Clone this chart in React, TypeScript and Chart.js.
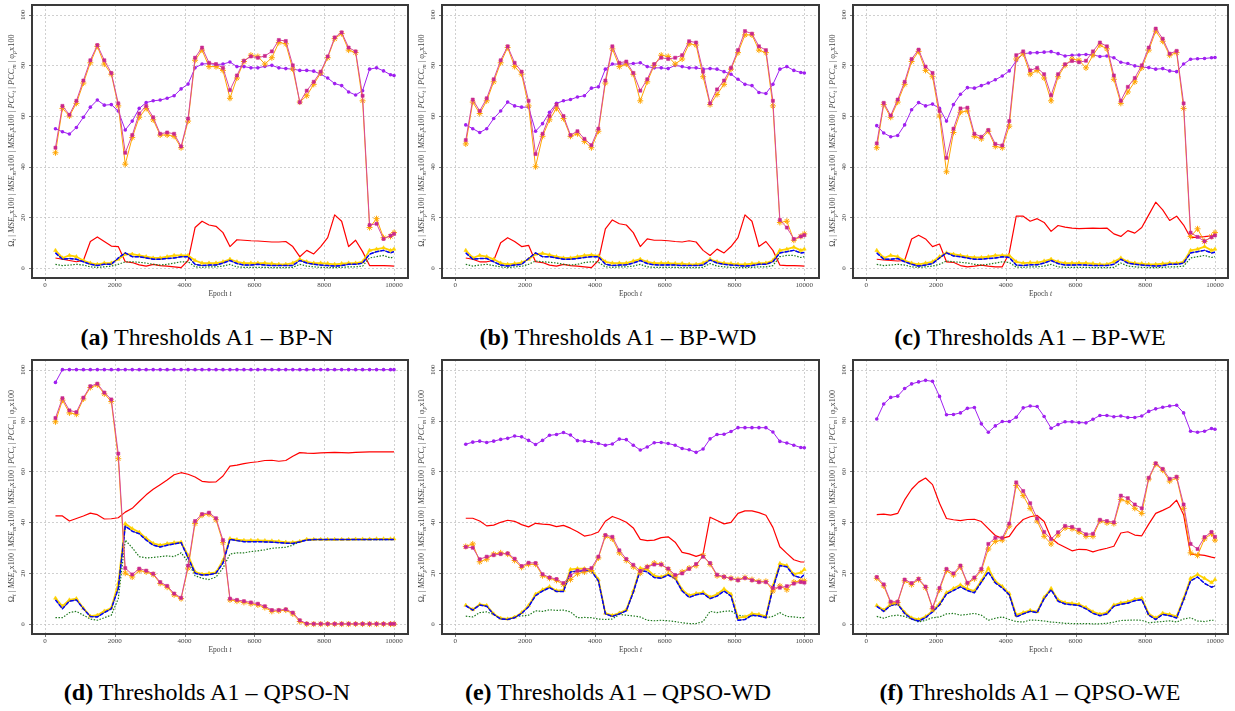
import React, { useEffect, useRef } from "react";
import { Chart, registerables } from "chart.js";
Chart.register(...registerables);

// ---------- shared axis data ----------
const EPOCHS = [
  300, 500, 700, 900, 1100, 1300, 1500, 1700, 1900, 2100,
  2300, 2500, 2700, 2900, 3100, 3300, 3500, 3700, 3900, 4100,
  4300, 4500, 4700, 4900, 5100, 5300, 5500, 5700, 5900, 6100,
  6300, 6500, 6700, 6900, 7100, 7300, 7500, 7700, 7900, 8100,
  8300, 8500, 8700, 8900, 9100, 9300, 9500, 9700, 9900, 10000,
];
const X_TICKS = [0, 2000, 4000, 6000, 8000, 10000];
const Y_TICKS = [0, 20, 40, 60, 80, 100];
const X_TITLE = ["Epoch ", "t"];
const Y_LABEL = [
  ["Ω", "n"], ["t", "s"], [" | ", "n"],
  ["MSE", "i"], ["p", "s"], ["x100 | ", "n"],
  ["MSE", "i"], ["m", "s"], ["x100 | ", "n"],
  ["MSE", "i"], ["t", "s"], ["x100 | ", "n"],
  ["PCC", "i"], ["t", "s"], [" | ", "n"],
  ["PCC", "i"], ["m", "s"], [" | ", "n"],
  ["φ", "n"], ["p", "s"], ["x100", "n"],
];
const CAPTION_LETTERS = ["(a)", "(b)", "(c)", "(d)", "(e)", "(f)"];
const CAPTION_NAMES = ["BP-N", "BP-WD", "BP-WE", "QPSO-N", "QPSO-WD", "QPSO-WE"];

// ---------- (a) BP-N ----------
const PHI_A = [
  55, 53.8, 52.9, 55.5, 59.5, 63.5, 66.3, 64.3, 64.5, 62,
  54.5, 58, 63, 65.3, 66, 66.3, 67, 68, 70.7, 72.6,
  79, 80.5, 80.7, 80.3, 80.5, 81.3, 79.5, 79.5, 79, 79,
  79.6, 80, 79, 78.7, 78.5, 78, 78, 77.7, 76.5, 75,
  72.8, 72, 69.5, 68.3, 70, 78.5, 79, 77.8, 76.3, 76,
];
const PCC_T_A = [
  47.5, 64, 60.5, 66, 74, 82, 88, 82, 77, 65,
  45.5, 52.5, 61, 64, 59.5, 53, 53.5, 53, 48, 59,
  83, 87, 81, 80.5, 79, 70.2, 76, 81.8, 83.5, 83,
  83.7, 85.5, 90, 89.6, 80, 65.4, 70, 73.5, 77.5, 83.5,
  91, 93, 87, 85.5, 68, 17, 17.5, 11.5, 12.8, 13.5,
];
const PCC_M_A = [
  45.5, 63, 60, 65, 73, 81, 87.5, 80.5, 76.5, 64,
  41, 51.5, 59.5, 63, 58.5, 52.5, 52.5, 52, 47.5, 58,
  82, 86, 79.5, 79.5, 78, 67, 75, 81.5, 84, 83.5,
  80.5, 83, 89, 88.5, 78.5, 65.5, 68, 72.5, 77, 83,
  90.5, 92.5, 86, 85, 66, 16, 19.5, 12, 12.5, 14,
];
const OMEGA_A = [
  4, 3.5, 3, 2.5, 3, 10.5, 12.3, 10.5, 8.7, 8.5,
  2.5, 2.2, 1.3, 0.8, 1.5, 1, 0.8, 0.5, 0.2, 3,
  16, 18.5, 17, 16.5, 14, 8.5, 11.2, 11, 10.8, 10.7,
  10.5, 10.3, 10.3, 10.5, 8.5, 4.5, 7, 5.6, 8.5, 12,
  21, 18.5, 8.5, 11, 6.5, 1, 1, 1, 0.9, 0.8,
];
const MSE_T_A = [
  6, 3.5, 3.8, 3.5, 2.5, 1.5, 1, 1.5, 1.5, 4,
  6, 4.5, 4.5, 4, 3.5, 3.5, 3.8, 4, 4.5, 4.5,
  1.5, 1, 1.2, 1.2, 2, 3, 1.8, 1.2, 1.2, 1.5,
  1.2, 1, 1, 1, 1, 3, 2, 1.5, 1.2, 1,
  0.8, 1, 1.5, 1.5, 2, 5.5, 6.5, 7, 6, 6.5,
];
const MSE_M_A = [
  7, 4, 5, 4.5, 3, 2, 1.5, 2, 2, 3.5,
  5.5, 5.5, 5, 4.5, 4, 4, 4.5, 5, 5, 5,
  3, 2, 2, 2, 2.5, 3.5, 2.5, 2, 2, 2,
  2, 1.8, 1.5, 1.5, 2, 3.5, 2.5, 2, 2, 1.8,
  1.5, 1.8, 2, 2, 2.5, 7, 7.5, 8, 7, 7.5,
];
const MSE_P_A = [
  1.5, 1, 1.2, 1.5, 1.2, 0.5, 0.3, 0.5, 0.8, 1.5,
  2.5, 2.5, 2.3, 2, 1.5, 1.2, 1.5, 2, 2.5, 2.5,
  0.5, 0.3, 0.5, 0.5, 0.8, 1.5, 0.5, 0.3, 0.3, 0.3,
  0.3, 0.2, 0.2, 0.2, 0.3, 1.5, 0.8, 0.5, 0.3, 0.2,
  0.2, 0.3, 0.5, 0.5, 0.8, 4, 4.5, 5, 4, 4.5,
];

// ---------- (b) BP-WD ----------
const PHI_B = [
  56.5, 55, 53.5, 55, 59, 62, 65.5, 64, 63.5, 63.5,
  54, 57, 61.5, 65, 66, 66.5, 67.5, 68, 71, 71.5,
  78.5, 80.5, 80.5, 80.5, 80.7, 81, 79.5, 79, 79, 78.7,
  80, 79.5, 79, 79, 78.5, 78.7, 78.5, 77.5, 76.5, 74.5,
  72.5, 72, 69.3, 68.9, 72.5, 78.5, 79.5, 78, 77.2, 77,
];
const PCC_T_B = [
  50.5, 66.5, 62, 67, 74.5, 82, 87.5, 81, 77.5, 66,
  45, 53, 60, 64.5, 60, 52.5, 54, 51, 48.5, 55,
  74, 87.5, 81, 81.5, 77, 70, 74.5, 80.5, 83, 82.5,
  83, 84, 89.5, 89, 77.5, 65, 70.5, 74, 79, 86,
  93.5, 92.5, 87.5, 86, 66, 19, 16, 11.5, 12.5, 13,
];
const PCC_M_B = [
  49, 65.5, 61, 66, 73.5, 81, 87, 79.5, 76.5, 64,
  40, 52, 58.5, 63, 59, 52, 53, 50, 47.5, 54,
  73, 86.5, 79.5, 80.5, 76.5, 66, 73.5, 80, 84, 83.5,
  80.5, 82.5, 88.5, 88, 75.5, 64.5, 68.5, 72.5, 78.5, 85,
  92, 92, 86, 85, 64, 18, 18.5, 11, 12.5, 13.5,
];
const OMEGA_B = [
  4, 3.5, 2.5, 2.5, 3, 10, 12, 10.5, 8.5, 9,
  2.5, 2.2, 1.2, 0.8, 1.5, 1, 0.8, 0.5, 0.2, 3,
  15.5, 19, 17.5, 17, 14, 8.5, 11.5, 11, 11, 10.8,
  10.5, 10.3, 10.8, 10.3, 7, 5, 7.5, 6, 8.5, 12,
  21, 18.5, 8.5, 10.5, 7, 1.2, 1, 1, 0.9, 0.8,
];
const MSE_T_B = [
  6, 3.5, 3.8, 3.8, 2.5, 1.2, 0.8, 1.2, 1.5, 3.8,
  6, 4.5, 4.5, 4, 3.5, 3.5, 3.8, 4.2, 4.5, 4.5,
  1.5, 1, 1.2, 1.3, 2, 3, 1.8, 1.3, 1.2, 1.3,
  1.2, 1, 1, 1, 1.2, 3.2, 2, 1.5, 1.2, 1,
  0.8, 1, 1.5, 1.5, 2.5, 6, 6.5, 7, 6, 6.2,
];
const MSE_M_B = [
  7, 4, 5, 4.5, 3.5, 2, 1.5, 1.8, 2.2, 3.5,
  5.5, 5.8, 5.2, 4.5, 4, 4, 4.5, 5, 5.2, 4.8,
  2.5, 2, 2, 2, 2.8, 3.5, 2.5, 2, 2, 2,
  1.8, 1.8, 1.5, 1.5, 2, 3.5, 2.5, 2, 1.8, 1.5,
  1.5, 1.8, 2, 2, 3, 7, 7.5, 8.3, 7, 7.5,
];
const MSE_P_B = [
  1.5, 0.8, 1.2, 1.5, 1, 0.5, 0.2, 0.5, 0.7, 1.5,
  2.8, 2.5, 2.3, 2, 1.5, 1.2, 1.5, 2.2, 2.5, 2.3,
  0.5, 0.3, 0.5, 0.5, 0.8, 1.5, 0.5, 0.3, 0.3, 0.3,
  0.3, 0.2, 0.2, 0.2, 0.3, 1.8, 0.8, 0.5, 0.3, 0.2,
  0.2, 0.3, 0.5, 0.5, 1, 4.5, 5, 5, 4.2, 4.5,
];

// ---------- (c) BP-WE ----------
const PHI_C = [
  56.2, 53.3, 51.8, 52.3, 56.5, 62.5, 65.3, 64, 64.7, 63,
  58, 64.5, 68.6, 71.2, 71, 72, 73, 74.3, 75.8, 77.8,
  81.8, 84.6, 84.9, 85, 85.2, 85.4, 84.6, 83.7, 84, 84.1,
  84.3, 84.1, 83.5, 83.7, 83, 81.2, 80.7, 79.8, 79.3, 79.1,
  78.5, 78.7, 77.8, 77.5, 80.5, 82.4, 82.6, 82.7, 83, 83.1,
];
const PCC_T_C = [
  49.2, 65.2, 60.2, 66.5, 73.5, 82.5, 86.2, 79.5, 77, 62,
  43.5, 55, 63, 63.3, 53, 51.8, 54.5, 49, 48.4, 58,
  84, 85.5, 78, 79, 76.5, 68.2, 76.5, 80.4, 81.7, 81.2,
  81.8, 85.5, 89, 87.5, 76, 66, 71.5, 75, 80, 87,
  94.5, 90.5, 84.6, 85.7, 65, 14, 12.3, 10.6, 12.2, 12.9,
];
const PCC_M_C = [
  47.5, 64.5, 59.5, 65.5, 72.5, 81.5, 85.5, 78, 75.5, 60,
  38, 53.5, 61.5, 62, 52, 51, 54, 48, 47.5, 56,
  82.5, 84.5, 76.5, 78, 75, 66, 75.5, 80, 82.5, 82,
  79, 84, 88, 86.5, 74.5, 65, 69.5, 73.5, 79, 86,
  93.5, 89.5, 84, 85, 63, 12.5, 15.5, 10.5, 12.5, 14,
];
const OMEGA_C = [
  3.5, 3.2, 3, 2.8, 3, 11.5, 13, 11.5, 8.5, 9.5,
  2.5, 2.3, 1, 0.5, 0.8, 1.2, 0.8, 0.5, 0.5, 6,
  20.5, 20.5, 18.5, 19.5, 18, 14.5, 16.8, 16.2, 15.8, 15.6,
  15.7, 15.8, 15.7, 15.8, 13.5, 12.5, 14.8, 13.8, 16, 21,
  26, 23, 18.8, 20.5, 17, 12, 12.2, 12.4, 12.7, 13,
];
const MSE_T_C = [
  6, 3.5, 3.5, 3.8, 2.5, 1.5, 0.8, 1.2, 1.8, 4,
  6, 4.8, 4.5, 4, 3.5, 3.5, 3.8, 4, 4.5, 4.2,
  1.2, 1, 1.3, 1.3, 2, 3, 1.8, 1.2, 1.2, 1.3,
  1.2, 1, 1, 1, 1.5, 3.5, 2, 1.5, 1.2, 1,
  0.8, 1, 1.5, 1.5, 2, 6, 6.5, 7, 6, 6.3,
];
const MSE_M_C = [
  7, 4, 5, 4.5, 3, 2, 1.5, 2, 2.5, 4.5,
  6, 5.5, 5, 4.5, 4.2, 4.2, 4.5, 5, 5, 5,
  2.5, 2, 2.2, 2.2, 2.8, 3.5, 2.5, 2, 2, 2,
  2, 1.8, 1.5, 1.5, 2.5, 4, 2.5, 2, 1.8, 1.5,
  1.5, 1.8, 2, 2, 2.5, 7, 7.5, 8.5, 7, 7.5,
];
const MSE_P_C = [
  1.5, 1, 1.2, 1.5, 1.2, 0.5, 0.3, 0.5, 0.8, 1.5,
  2.8, 2.5, 2.3, 2, 1.5, 1.2, 1.5, 2, 2.5, 2.2,
  0.4, 0.3, 0.5, 0.5, 0.8, 1.5, 0.5, 0.3, 0.3, 0.3,
  0.3, 0.2, 0.2, 0.2, 0.3, 2, 0.8, 0.5, 0.3, 0.2,
  0.2, 0.3, 0.5, 0.5, 0.8, 4, 4.5, 5, 4.2, 4.5,
];

// ---------- (d) QPSO-N ----------
const PHI_D = [
  95, 100, 100, 100, 100, 100, 100, 100, 100, 100,
  100, 100, 100, 100, 100, 100, 100, 100, 100, 100,
  100, 100, 100, 100, 100, 100, 100, 100, 100, 100,
  100, 100, 100, 100, 100, 100, 100, 100, 100, 100,
  100, 100, 100, 100, 100, 100, 100, 100, 100, 100,
];
const PCC_T_D = [
  81, 88.8, 84, 83.3, 89, 93.5, 94.5, 91, 88.3, 67,
  22, 19.5, 21.8, 21, 19.8, 16.5, 15, 12, 10.3, 23,
  40.5, 43.2, 43.8, 41.6, 33, 10, 9.5, 9, 8.5, 8,
  7, 5.5, 5.5, 5.8, 4.5, 1.5, 0.2, 0.1, 0.1, 0.1,
  0.1, 0.1, 0.1, 0.1, 0.1, 0.1, 0.1, 0.1, 0.1, 0.1,
];
const PCC_M_D = [
  79.5, 88, 83, 82.5, 88.5, 93, 94, 90.5, 87.5, 65,
  20, 18.5, 21, 20.5, 19.5, 16, 14.5, 11.5, 10, 22,
  39.5, 42.8, 43.2, 41, 32, 9.5, 9, 8.5, 8, 7.5,
  6.5, 5, 5.2, 5.5, 4, 1, 0, 0, 0, 0,
  0, 0, 0, 0, 0, 0, 0, 0, 0, 0,
];
const OMEGA_D = [
  42.5, 42.5, 40.5, 41.5, 42.5, 43.6, 43, 41.3, 41.4, 41.8,
  44, 45.5, 48.2, 50.8, 53, 54.8, 56.6, 58.7, 59.5, 58.9,
  57.8, 56.1, 55.8, 55.9, 58.2, 62.1, 62.5, 63.1, 63.5, 63.8,
  64.3, 64.4, 64, 64.3, 66, 67.4, 67.2, 67.1, 67.3, 67.4,
  67.5, 67.4, 67.3, 67.5, 67.6, 67.7, 67.7, 67.7, 67.7, 67.7,
];
const MSE_T_D = [
  9.5, 6, 9, 9.5, 6, 3, 2.8, 4.5, 6, 14,
  38.5, 36.5, 35.5, 33, 31, 30.3, 31, 31.5, 32, 26,
  20, 19.3, 19.4, 20, 24, 33.3, 32.8, 32.4, 32.4, 32.4,
  32.3, 32.2, 32, 31.8, 31.7, 32.3, 33, 33.2, 33.2, 33.2,
  33.2, 33.2, 33.2, 33.2, 33.2, 33.2, 33.2, 33.2, 33.2, 33.2,
];
const MSE_M_D = [
  10.2, 7, 9.5, 10, 6.2, 3.1, 3.5, 5.1, 6.3, 16,
  39.5, 37.5, 36.1, 33.7, 31.7, 31, 31.6, 32, 32.2, 27,
  20.5, 19.6, 19.9, 20.3, 25, 33.6, 33.2, 32.9, 32.9, 32.9,
  32.8, 32.7, 32.5, 32.2, 32.1, 32.5, 33.3, 33.3, 33.3, 33.3,
  33.3, 33.3, 33.3, 33.4, 33.4, 33.4, 33.5, 33.5, 33.5, 33.5,
];
const MSE_P_D = [
  2.5, 2.5, 4.5, 5, 3.5, 2, 1.5, 2.5, 3.5, 10,
  33, 30, 26.5, 26, 26.2, 26.5, 26.8, 26.5, 28, 24.5,
  19, 18, 17.5, 18.5, 22, 27.5, 28, 28, 28.5, 28.8,
  29.2, 29.8, 30, 30.2, 31, 32.5, 33, 33.2, 33.2, 33.2,
  33.2, 33.2, 33.2, 33.2, 33.2, 33.2, 33.2, 33.2, 33.2, 33.2,
];

// ---------- (e) QPSO-WD ----------
const PHI_E = [
  70.7, 71.5, 71.9, 71.4, 71.9, 72.6, 73, 73.9, 73.6, 72.2,
  70.6, 72.2, 74.2, 74.5, 75.3, 74.3, 72.1, 71.9, 71.7, 71,
  70.3, 70.8, 72.7, 72.5, 70.3, 68.4, 69.6, 71.3, 71.4, 71,
  70.3, 69, 68.5, 67.5, 68.8, 72.8, 74.5, 74.6, 75.7, 77.2,
  77.2, 77.2, 77.2, 77.2, 75.5, 71.8, 71.2, 70.3, 69.4, 69.3,
];
const PCC_T_E = [
  30.3, 30, 25.5, 26.5, 27.1, 27.5, 27.8, 25.7, 22.8, 24.1,
  24, 19.6, 18.3, 17.7, 16.1, 19.1, 21, 21.4, 22, 26.5,
  35, 34.3, 29, 25.6, 23.3, 20.8, 22.5, 23.4, 23.4, 21.8,
  19.3, 19.9, 21.7, 23.6, 26.5, 24, 19.4, 18.6, 17.9, 17.2,
  18.1, 17.2, 16.5, 16.5, 14.2, 14.3, 14.9, 15.9, 16.5, 16.3,
];
const PCC_M_E = [
  30.5, 31.5, 24.5, 25.5, 27.5, 28, 27.5, 25, 22.3, 23.5,
  23.5, 19, 18, 17.2, 15.5, 17.5, 19.8, 20.5, 21, 26,
  34.5, 33.5, 28, 25, 22.5, 20, 22.5, 24, 23.5, 21.5,
  18.5, 20.5, 22, 23, 27, 23.5, 19, 18.5, 18, 17.5,
  18.3, 17.5, 16.8, 16.8, 13, 15, 13.5, 16.5, 17, 17,
];
const OMEGA_E = [
  41.6, 41.6, 40.5, 38.6, 38.9, 40, 40.8, 40.4, 39.1, 38.2,
  39.6, 39.3, 39.1, 38.3, 38.8, 37.7, 36.3, 34.6, 35.1, 36.2,
  40.4, 42.3, 41.3, 40, 37.8, 33.3, 32.8, 33, 34, 34.3,
  32.2, 28.2, 27.6, 26.6, 27.5, 42, 40.7, 39.4, 40, 43.5,
  44.5, 44.5, 43.8, 42.8, 38, 30.4, 27.8, 25.3, 24.4, 24.4,
];
const MSE_T_E = [
  7.2, 5.5, 7.5, 7, 3.8, 2, 1.8, 2.5, 4.2, 6.8,
  11.2, 13, 14.3, 12.8, 12.8, 20.5, 20.8, 21, 20.8, 17,
  4, 3, 4, 5.2, 12.5, 21.2, 20.5, 18.3, 18, 19.3,
  17.8, 13, 10.5, 11.5, 12, 10, 11, 13, 11, 1.5,
  1.8, 3.5, 3.2, 2.5, 14, 23, 22.5, 19, 18.2, 19.5,
];
const MSE_M_E = [
  7.4, 5.7, 7.7, 7.3, 4, 2.3, 2, 2.7, 4.5, 7.3,
  11.7, 13.5, 14.7, 13.1, 13.3, 21.5, 21.8, 21.8, 21.5, 17.5,
  4.3, 3.4, 4.3, 5.6, 13, 22, 21.5, 19, 18.5, 19.8,
  18.4, 13.5, 11.3, 12, 12.5, 10.6, 11.7, 13.8, 11.7, 2.5,
  2.8, 4.1, 3.8, 3, 15, 23.8, 23, 19.6, 20.2, 21.5,
];
const MSE_P_E = [
  3.1, 2.8, 4.5, 4.8, 3.8, 2, 1.8, 3, 3.2, 3.5,
  5.2, 5, 5.6, 5.4, 5.5, 4.8, 2.5, 2.6, 2.5, 2,
  1.8, 2, 3.8, 3.5, 3.2, 2.8, 1.5, 1.3, 1.5, 1.3,
  1, 0.5, 0.2, 0.2, 1, 5, 4.5, 5, 5.2, 3.5,
  3, 3.2, 3.5, 2.5, 3, 4.5, 3, 2.8, 2.5, 2.5,
];

// ---------- (f) QPSO-WE ----------
const PHI_F = [
  80.6, 86.5, 89.1, 89.6, 92.6, 94.4, 95.2, 95.8, 95.4, 89.5,
  82.3, 82.4, 83, 84.8, 85.1, 78.7, 75.4, 77.9, 79.6, 79.6,
  81.3, 85, 85.7, 85.5, 81.6, 77, 78.4, 79.5, 79.5, 79.2,
  79.1, 80.5, 82, 82, 81.5, 81.8, 81.2, 81.2, 81.8, 83.6,
  84.6, 85.2, 85.7, 86, 83, 75.8, 75.4, 75.8, 76.9, 76.6,
];
const PCC_T_F = [
  18.5, 15.6, 8.8, 8.8, 17.5, 16.1, 17.8, 14.7, 6.5, 14.2,
  21.7, 19.9, 23, 16.2, 18.3, 21.7, 31.5, 33.9, 33.9, 39.5,
  55.7, 52.3, 47.5, 41.5, 36.2, 33.4, 36.1, 38.6, 38.2, 37.1,
  35.3, 35.5, 41, 40.5, 40, 50.5, 49.5, 47, 45.5, 57.5,
  63.2, 61, 57.1, 57.9, 47, 31.5, 29.5, 34.2, 36.2, 34.3,
];
const PCC_M_F = [
  18, 15, 8.3, 8.5, 17, 15.5, 17.5, 14.3, 6, 13.5,
  21, 19.3, 22.5, 15.8, 17.8, 21, 29.5, 32.5, 33, 38.5,
  54.5, 50.5, 45.5, 40.5, 34.5, 31.5, 35, 37.8, 37.5, 36.2,
  34.5, 34.5, 40.5, 39.8, 39.5, 49, 48, 45.5, 43.5, 57,
  62.8, 60.5, 56.2, 57.5, 45.5, 28, 27, 33.5, 35.5, 33,
];
const OMEGA_F = [
  43, 43.2, 42.8, 43.5, 48.8, 53, 55.8, 57.4, 54.8, 47.5,
  41.5, 41, 40.7, 41.1, 41.2, 40.3, 37.5, 34.8, 33.7, 34.5,
  38.4, 41.1, 42.2, 42.7, 40.3, 33.8, 31.6, 30.2, 28.8, 29.4,
  29.3, 28.4, 29.2, 29.8, 30.6, 35.8, 36.3, 35, 34.7, 39.3,
  43.5, 44.7, 46, 48.7, 43, 27.5, 27.3, 27, 26.3, 26,
];
const MSE_T_F = [
  7, 5, 7.3, 7.8, 4.2, 2, 1.2, 2.5, 4.8, 7.5,
  11.8, 13.2, 14.6, 13.2, 12.3, 16.5, 20.5, 16.2, 14.2, 11.5,
  2.8, 4, 5, 4.5, 10, 13.5, 9, 7.9, 7.6, 7.3,
  6, 4.2, 3.3, 4, 7, 7.8, 8.2, 9.2, 9.6, 3.5,
  1.8, 3.8, 3.3, 2.4, 9.5, 17, 18.5, 16, 14.5, 15,
];
const MSE_M_F = [
  7.3, 5.5, 7.8, 8.1, 4.6, 2.4, 1.8, 2.9, 5.2, 8,
  12.3, 14, 15.4, 13.8, 13, 17, 22, 16.8, 14.8, 12,
  3.6, 4.5, 5.4, 4.9, 10.5, 14, 9.5, 8.4, 8.1, 7.8,
  6.5, 4.8, 3.9, 4.5, 7.5, 8.3, 8.8, 9.8, 10.2, 4,
  2.4, 4.3, 3.8, 3, 10, 18, 19.5, 18, 16.3, 17.5,
];
const MSE_P_F = [
  3, 2.3, 3.2, 3.5, 3, 2, 0.8, 1.5, 2.5, 2.8,
  4, 4.2, 3.5, 3.8, 4.2, 3.5, 1.5, 2.3, 2.8, 1.8,
  1, 0.8, 1.6, 1.5, 1.2, 0.8, 0.6, 0.3, 0.2, 0.2,
  0.2, 0.1, 0.1, 0.3, 0.8, 1.4, 1.5, 1.6, 1.5, 0.5,
  0.8, 1, 1.3, 0.8, 2, 2.5, 1.2, 1, 1.5, 1.5,
];

// ---------- assembly ----------
const SERIES = [
  { phi: PHI_A, pt: PCC_T_A, pm: PCC_M_A, om: OMEGA_A, mt: MSE_T_A, mm: MSE_M_A, mp: MSE_P_A },
  { phi: PHI_B, pt: PCC_T_B, pm: PCC_M_B, om: OMEGA_B, mt: MSE_T_B, mm: MSE_M_B, mp: MSE_P_B },
  { phi: PHI_C, pt: PCC_T_C, pm: PCC_M_C, om: OMEGA_C, mt: MSE_T_C, mm: MSE_M_C, mp: MSE_P_C },
  { phi: PHI_D, pt: PCC_T_D, pm: PCC_M_D, om: OMEGA_D, mt: MSE_T_D, mm: MSE_M_D, mp: MSE_P_D },
  { phi: PHI_E, pt: PCC_T_E, pm: PCC_M_E, om: OMEGA_E, mt: MSE_T_E, mm: MSE_M_E, mp: MSE_P_E },
  { phi: PHI_F, pt: PCC_T_F, pm: PCC_M_F, om: OMEGA_F, mt: MSE_T_F, mm: MSE_M_F, mp: MSE_P_F },
];

const COLS = [
  { left: 0, w: 412, pl: 32, pr: 4, xMin: -372, xMax: 10401, cap: 207 },
  { left: 412, w: 412, pl: 30, pr: 5, xMin: -381, xMax: 10421, cap: 618 },
  { left: 824, w: 411, pl: 29, pr: 7, xMin: -381, xMax: 10373, cap: 1030 },
];
const ROWS = [
  { top: 0, h: 300, pt: 5, pb: 22, capTop: 325 },
  { top: 355, h: 300, pt: 5, pb: 21, capTop: 680 },
];
const Y_MIN = -3.9;
const Y_MAX = 103.8;

const SERIF = '"Liberation Serif", "DejaVu Serif", serif';

function pts(vals) {
  return EPOCHS.map((e, i) => ({ x: e, y: vals[i] }));
}

function makeDatasets(s) {
  const base = { fill: false, tension: 0, pointHoverRadius: 0, borderJoinStyle: "round" };
  return [
    { ...base, label: "PCC_t", data: pts(s.pt), borderColor: "#d8479c", borderWidth: 1,
      pointStyle: "rect", pointRadius: 2.2, pointBackgroundColor: "#c8278e", pointBorderColor: "#c8278e", pointBorderWidth: 0.5 },
    { ...base, label: "PCC_m", data: pts(s.pm), borderColor: "#ffa500", borderWidth: 1,
      pointStyle: "star", pointRadius: 3, pointBackgroundColor: "#ffa500", pointBorderColor: "#ffa500", pointBorderWidth: 1 },
    { ...base, label: "phi_p", data: pts(s.phi), borderColor: "#a020f0", borderWidth: 1,
      pointStyle: "circle", pointRadius: 1.8, pointBackgroundColor: "#a020f0", pointBorderColor: "#a020f0", pointBorderWidth: 0 },
    { ...base, label: "MSE_t", data: pts(s.mt), borderColor: "#0000ff", borderWidth: 1.5, borderDash: [4, 1.5], pointRadius: 0 },
    { ...base, label: "MSE_t_under", data: pts(s.mt), borderColor: "#222222", borderWidth: 0.8, pointRadius: 0 },
    { ...base, label: "MSE_m", data: pts(s.mm), borderColor: "#ffd200", borderWidth: 1.8,
      pointStyle: "triangle", pointRadius: 2.2, pointBackgroundColor: "#ffd200", pointBorderColor: "#ffd200", pointBorderWidth: 0.5 },
    { ...base, label: "MSE_p", data: pts(s.mp), borderColor: "#1f7a1f", borderWidth: 1.2, borderDash: [1.5, 1.5], pointRadius: 0 },
    { ...base, label: "Omega", data: pts(s.om), borderColor: "#ff0000", borderWidth: 1.2, pointRadius: 0 },
  ];
}

function drawRich(ctx, parts, size) {
  const fontFor = (k) =>
    k === "n" ? `${size}px ${SERIF}` : k === "i" ? `italic ${size}px ${SERIF}` : `italic ${size * 0.72}px ${SERIF}`;
  let total = 0;
  for (const [t, k] of parts) {
    ctx.font = fontFor(k);
    total += ctx.measureText(t).width;
  }
  let x = -total / 2;
  for (const [t, k] of parts) {
    ctx.font = fontFor(k);
    ctx.fillText(t, x, k === "s" ? size * 0.3 : 0);
    x += ctx.measureText(t).width;
  }
}

const axesPlugin = {
  id: "paperAxes",
  beforeDatasetsDraw(chart) {
    const { ctx, chartArea: a, scales } = chart;
    const xs = scales.x;
    const ys = scales.y;
    ctx.save();
    ctx.strokeStyle = "#c4c4c4";
    ctx.lineWidth = 0.8;
    ctx.setLineDash([2, 2]);
    for (const v of X_TICKS) {
      const px = Math.round(xs.getPixelForValue(v)) + 0.5;
      ctx.beginPath();
      ctx.moveTo(px, a.top);
      ctx.lineTo(px, a.bottom);
      ctx.stroke();
    }
    for (const v of Y_TICKS) {
      const py = Math.round(ys.getPixelForValue(v)) + 0.5;
      ctx.beginPath();
      ctx.moveTo(a.left, py);
      ctx.lineTo(a.right, py);
      ctx.stroke();
    }
    ctx.restore();
  },
  afterDraw(chart) {
    const { ctx, chartArea: a, scales } = chart;
    const xs = scales.x;
    const ys = scales.y;
    ctx.save();
    ctx.setLineDash([]);
    ctx.strokeStyle = "#3a3a3a";
    ctx.lineWidth = 2;
    ctx.strokeRect(a.left, a.top, a.right - a.left, a.bottom - a.top);

    // small outward tick marks
    ctx.lineWidth = 0.8;
    ctx.strokeStyle = "#555";
    for (const v of X_TICKS) {
      const px = Math.round(xs.getPixelForValue(v)) + 0.5;
      ctx.beginPath();
      ctx.moveTo(px, a.bottom + 1);
      ctx.lineTo(px, a.bottom + 3);
      ctx.stroke();
    }
    for (const v of Y_TICKS) {
      const py = Math.round(ys.getPixelForValue(v)) + 0.5;
      ctx.beginPath();
      ctx.moveTo(a.left - 1, py);
      ctx.lineTo(a.left - 3, py);
      ctx.stroke();
    }

    ctx.fillStyle = "#444";
    ctx.font = `7px ${SERIF}`;
    ctx.textAlign = "center";
    ctx.textBaseline = "middle";
    for (const v of X_TICKS) {
      ctx.fillText(String(v), xs.getPixelForValue(v), a.bottom + 7.5);
    }
    for (const v of Y_TICKS) {
      ctx.save();
      ctx.translate(a.left - 9, ys.getPixelForValue(v));
      ctx.rotate(-Math.PI / 2);
      ctx.fillText(String(v), 0, 0);
      ctx.restore();
    }
    // x title
    ctx.textAlign = "left";
    ctx.font = `7.5px ${SERIF}`;
    const w1 = ctx.measureText(X_TITLE[0]).width;
    ctx.font = `italic 7.5px ${SERIF}`;
    const w2 = ctx.measureText(X_TITLE[1]).width;
    const cx = (a.left + a.right) / 2 - (w1 + w2) / 2;
    ctx.font = `7.5px ${SERIF}`;
    ctx.fillText(X_TITLE[0], cx, a.bottom + 16);
    ctx.font = `italic 7.5px ${SERIF}`;
    ctx.fillText(X_TITLE[1], cx + w1, a.bottom + 16);
    // y title
    ctx.save();
    ctx.translate(a.left - 20, (a.top + a.bottom) / 2 - 1);
    ctx.rotate(-Math.PI / 2);
    ctx.textAlign = "left";
    drawRich(ctx, Y_LABEL, 8.3);
    ctx.restore();
    ctx.restore();
  },
};

function Panel({ idx }) {
  const ref = useRef(null);
  const col = COLS[idx % 3];
  const row = ROWS[Math.floor(idx / 3)];
  useEffect(() => {
    const chart = new Chart(ref.current, {
      type: "line",
      data: { datasets: makeDatasets(SERIES[idx]) },
      options: {
        responsive: false,
        animation: false,
        devicePixelRatio: 1,
        events: [],
        layout: { padding: { left: col.pl, right: col.pr, top: row.pt, bottom: row.pb } },
        plugins: { legend: { display: false }, tooltip: { enabled: false } },
        scales: {
          x: { type: "linear", display: false, min: col.xMin, max: col.xMax },
          y: { type: "linear", display: false, min: Y_MIN, max: Y_MAX },
        },
      },
      plugins: [axesPlugin],
    });
    return () => chart.destroy();
  }, []);
  return (
    <>
      <canvas
        ref={ref}
        width={col.w}
        height={row.h}
        style={{ position: "absolute", left: col.left, top: row.top, width: col.w, height: row.h }}
      />
      <div
        style={{
          position: "absolute",
          left: col.cap - 200,
          top: row.capTop,
          width: 400,
          textAlign: "center",
          fontFamily: SERIF,
          fontSize: 24,
          lineHeight: "24px",
          color: "#000",
          whiteSpace: "nowrap",
        }}
      >
        <b>{CAPTION_LETTERS[idx]}</b> Thresholds A1 – {CAPTION_NAMES[idx]}
      </div>
    </>
  );
}

export default function App() {
  return (
    <div style={{ position: "absolute", left: 0, top: 0, width: 1235, height: 711, background: "#fff", overflow: "hidden" }}>
      {[0, 1, 2, 3, 4, 5].map((i) => (
        <Panel key={i} idx={i} />
      ))}
    </div>
  );
}
